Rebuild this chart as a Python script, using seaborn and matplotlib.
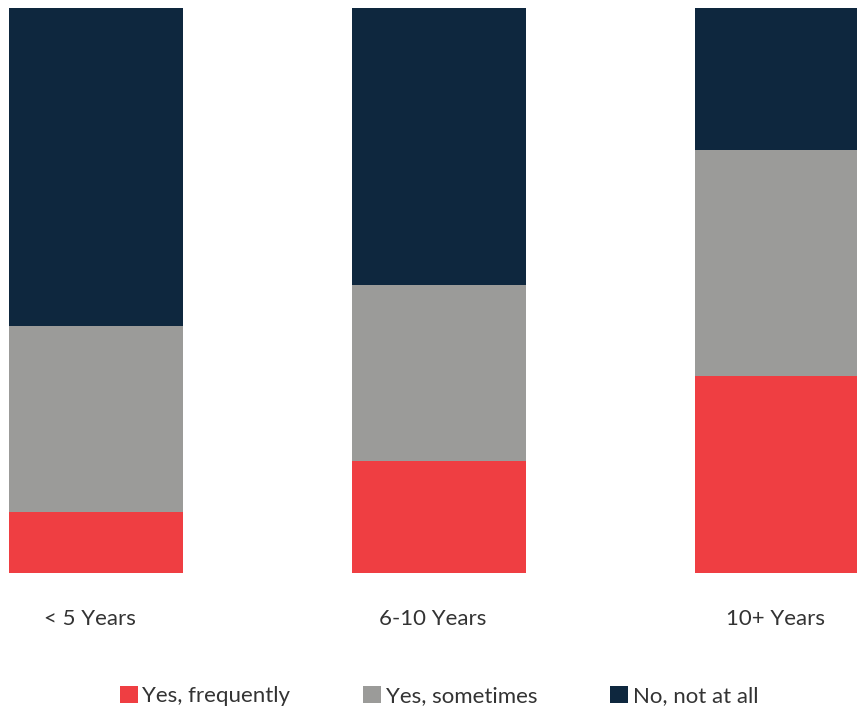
import matplotlib
matplotlib.use("Agg")
import matplotlib.pyplot as plt
import seaborn as sns
import pandas as pd
from matplotlib.patches import Patch

categories = ["< 5 Years", "6-10 Years", "10+ Years"]
series_names = ["Yes, frequently", "Yes, sometimes", "No, not at all"]
yes_frequently = [10.8, 19.9, 34.9]
yes_sometimes = [33.0, 31.0, 39.9]
no_not_at_all = [56.2, 49.1, 25.2]
colors = ["#EF3E42", "#9B9B99", "#0E273E"]

sns.set_theme(style="white")
plt.rcParams["font.family"] = ["Lato", "DejaVu Sans"]

df = pd.DataFrame({
    "cat": categories,
    "s1": yes_frequently,
    "s2": [a + b for a, b in zip(yes_frequently, yes_sometimes)],
    "s3": [a + b + c for a, b, c in zip(yes_frequently, yes_sometimes, no_not_at_all)],
})

fig = plt.figure(figsize=(8.57, 7.09), dpi=100)
ax = fig.add_axes([0, 1 - 573 / 709, 1, (573 - 8) / 709])
w = 174 / 343
for col, c in zip(["s3", "s2", "s1"], colors[::-1]):
    sns.barplot(data=df, x="cat", y=col, color=c, width=w, ax=ax,
                saturation=1, linewidth=0, edgecolor="none", errorbar=None)

ax.set_xlim(-96 / 343, (857 - 96) / 343)
ax.set_ylim(0, 100)
ax.set_xlabel("")
ax.set_ylabel("")
ax.set_xticks([])
ax.set_yticks([])
for s in ax.spines.values():
    s.set_visible(False)

txt_color = "#333333"
for i, cat in enumerate(categories):
    fx = (96 + 343 * i - 6) / 857
    fig.text(fx, 1 - 619 / 709, cat, ha="center", va="center",
             fontsize=16, color=txt_color)

handles = [Patch(facecolor=c, edgecolor="none") for c in colors]
leg = fig.legend(handles, series_names, loc="center", bbox_to_anchor=(439 / 857, 1 - 696 / 709),
                 ncol=3, frameon=False, fontsize=16, handlelength=0.8, handleheight=0.8,
                 handletextpad=0.2, columnspacing=3.3, labelcolor=txt_color)

fig.savefig("out.png", dpi=100)
